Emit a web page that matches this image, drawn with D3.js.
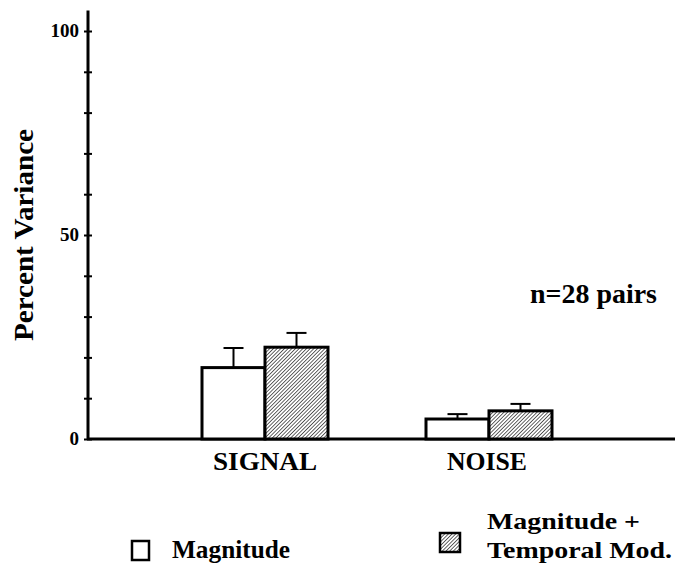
<!DOCTYPE html>
<html>
<head>
<meta charset="utf-8">
<script src="https://cdn.jsdelivr.net/npm/d3@7"></script>
<style>
  html, body { margin: 0; padding: 0; background: #fff; }
</style>
</head>
<body>
<svg id="chart" width="675" height="570"></svg>
<script>
// data
var categories = ["SIGNAL", "NOISE"];
var series = ["Magnitude", "Magnitude + Temporal Mod."];
var meanMag = [17.5, 4.9];
var meanMagTemp = [22.5, 6.9];
var errMag = [22.3, 6.1];      // top of error bar
var errMagTemp = [26.0, 8.6];
var yTickLabels = [0, 50, 100];

var FONT = "'Times New Roman', 'Liberation Serif', 'DejaVu Serif', 'Noto Serif', FreeSerif, Times, serif";

var svg = d3.select("#chart");

// hatch pattern for the second series
var defs = svg.append("defs");
var pat = defs.append("pattern")
  .attr("id", "hatch")
  .attr("patternUnits", "userSpaceOnUse")
  .attr("width", 2.6).attr("height", 2.6)
  .attr("patternTransform", "rotate(45)");
pat.append("rect").attr("width", 2.6).attr("height", 2.6).attr("fill", "#fff");
pat.append("line").attr("x1", 0).attr("y1", 0).attr("x2", 0).attr("y2", 2.6)
  .attr("stroke", "#111").attr("stroke-width", 1.3);

// scales
var y = d3.scaleLinear().domain([0, 100]).range([439, 31]);
var x = d3.scalePoint().domain(categories).range([265, 489]);
var xSub = d3.scaleBand().domain(series).range([-63, 63]);

var axisX = 88;

// y axis
var yAxis = d3.axisLeft(y)
  .tickValues(d3.range(0, 101, 10))
  .tickSize(4)
  .tickFormat(function(d){ return yTickLabels.indexOf(d) >= 0 ? d : ""; });

var gy = svg.append("g")
  .attr("transform", "translate(" + axisX + ",0)")
  .call(yAxis);
gy.select(".domain").remove();
gy.selectAll(".tick line").attr("x1", -4).attr("x2", 4).attr("stroke", "#000").attr("stroke-width", 2);
gy.selectAll(".tick text")
  .attr("x", -9)
  .attr("dy", "0.3em")
  .attr("font-family", FONT)
  .attr("font-weight", "bold")
  .attr("font-size", 19)
  .attr("fill", "#000");

// axis lines
svg.append("line")
  .attr("x1", axisX).attr("x2", axisX)
  .attr("y1", y(0)).attr("y2", y(105))
  .attr("stroke", "#000").attr("stroke-width", 3);
svg.append("line")
  .attr("x1", axisX - 1).attr("x2", 675)
  .attr("y1", y(0)).attr("y2", y(0))
  .attr("stroke", "#000").attr("stroke-width", 3);

// bars
var rows = categories.map(function(c, i){
  return [
    {cat: c, s: series[0], v: meanMag[i], e: errMag[i], fill: "#fff"},
    {cat: c, s: series[1], v: meanMagTemp[i], e: errMagTemp[i], fill: "url(#hatch)"}
  ];
});
var flat = d3.merge(rows);

function cx(d){ return x(d.cat) + xSub(d.s) + xSub.bandwidth()/2; }

// error bars (drawn first so the bar outline sits on top)
var eb = svg.append("g").selectAll("g")
  .data(flat).enter().append("g");
eb.append("line")
  .attr("x1", cx).attr("x2", cx)
  .attr("y1", function(d){ return y(d.v); })
  .attr("y2", function(d){ return y(d.e); })
  .attr("stroke", "#000").attr("stroke-width", 2);
eb.append("line")
  .attr("x1", function(d){ return cx(d) - 10; })
  .attr("x2", function(d){ return cx(d) + 10; })
  .attr("y1", function(d){ return y(d.e); })
  .attr("y2", function(d){ return y(d.e); })
  .attr("stroke", "#000").attr("stroke-width", 2);

svg.append("g").selectAll("rect")
  .data(flat).enter().append("rect")
  .attr("x", function(d){ return x(d.cat) + xSub(d.s); })
  .attr("y", function(d){ return y(d.v); })
  .attr("width", xSub.bandwidth())
  .attr("height", function(d){ return y(0) - y(d.v); })
  .attr("fill", function(d){ return d.fill; })
  .attr("stroke", "#000")
  .attr("stroke-width", 3);

// text helper; width forces the measured width of the printed text
function label(x0, y0, size, txt, anchor, width){
  var t = svg.append("text")
    .attr("x", x0).attr("y", y0)
    .attr("font-family", FONT)
    .attr("font-weight", "bold")
    .attr("font-size", size)
    .attr("fill", "#000")
    .attr("text-anchor", anchor || "start")
    .text(txt);
  if (width) t.attr("textLength", width).attr("lengthAdjust", "spacingAndGlyphs");
  return t;
}

// category labels
label(x("SIGNAL"), 470, 26, "SIGNAL", "middle", 104);
label(x("NOISE") - 2, 470, 26, "NOISE", "middle", 80);

// y label
label(0, 0, 28, "Percent Variance", "middle", 212)
  .attr("transform", "translate(33,235) rotate(-90)");

// annotation
label(530, 303, 27, "n=28 pairs", "start", 127);

// legend
svg.append("rect")
  .attr("x", 132).attr("y", 541).attr("width", 17).attr("height", 19)
  .attr("fill", "#fff").attr("stroke", "#000").attr("stroke-width", 2.5);
label(172, 558, 26, series[0], "start", 118);

svg.append("rect")
  .attr("x", 440).attr("y", 533).attr("width", 20).attr("height", 19)
  .attr("fill", "url(#hatch)").attr("stroke", "#000").attr("stroke-width", 2.5);
label(487, 529, 24, "Magnitude +", "start", 153);
label(487, 558, 24, "Temporal Mod.", "start", 185);
</script>
</body>
</html>
